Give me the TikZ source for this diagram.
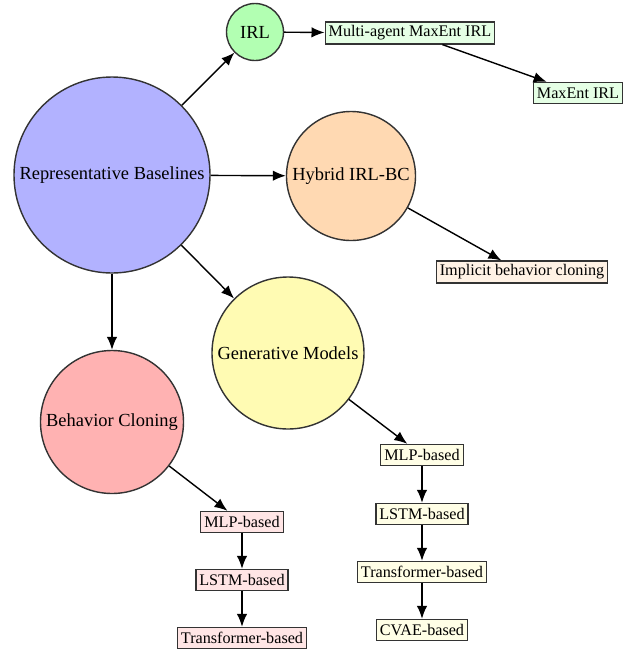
\documentclass[tikz,border=0pt]{standalone}
\usepackage{fontspec}
\setmainfont{Liberation Serif}
\usetikzlibrary{arrows.meta}

\begin{document}
\begin{tikzpicture}[
  bigcirc/.style={circle,draw=black!80,thick,inner sep=0pt,font=\fontsize{10.5}{12}\selectfont},
  leafbox/.style={rectangle,draw=black!80,thick,inner sep=2pt,minimum height=0.42cm,font=\fontsize{9.2}{11}\selectfont},
  link/.style={-{Latex[length=2.6mm,width=2.1mm]},thick}
]

\useasboundingbox (0,0) rectangle (12.72,-13.04);

\node[bigcirc,fill=blue!30,minimum size=3.92cm]
(RB)
at (2.24,-3.5)
{Representative Baselines};

\node[bigcirc,fill=green!30,minimum size=1.14cm]
(IRL)
at (5.1,-0.64)
{IRL};

\node[bigcirc,fill=orange!30,minimum size=2.58cm]
(HY)
at (7.02,-3.52)
{Hybrid IRL-BC};

\node[bigcirc,fill=yellow!30,minimum size=3.04cm]
(GM)
at (5.76,-7.06)
{Generative Models};

\node[bigcirc,fill=red!30,minimum size=2.86cm]
(BC)
at (2.24,-8.44)
{Behavior Cloning};

% IRL branch
\node[leafbox,fill=green!10]
(MA)
at (8.2,-0.66)
{Multi-agent MaxEnt IRL};

\node[leafbox,fill=green!10]
(ME)
at (11.56,-1.86)
{MaxEnt IRL};

% hybrid branch
\node[leafbox,fill=orange!10]
(IB)
at (10.44,-5.44)
{Implicit behavior cloning};

% generative branch
\node[leafbox,fill=yellow!10]
(G1)
at (8.44,-9.1)
{MLP-based};

\node[leafbox,fill=yellow!10]
(G2)
at (8.44,-10.28)
{LSTM-based};

\node[leafbox,fill=yellow!10]
(G3)
at (8.44,-11.44)
{Transformer-based};

\node[leafbox,fill=yellow!10]
(G4)
at (8.44,-12.6)
{CVAE-based};

% behavior cloning branch
\node[leafbox,fill=red!10]
(B1)
at (4.84,-10.44)
{MLP-based};

\node[leafbox,fill=red!10]
(B2)
at (4.84,-11.6)
{LSTM-based};

\node[leafbox,fill=red!10]
(B3)
at (4.84,-12.76)
{Transformer-based};

\draw[link] (RB) -- (IRL);
\draw[link] (RB) -- (HY);
\draw[link] (RB) -- (GM);
\draw[link] (RB) -- (BC);

\draw[link] (IRL) -- (MA);
\draw[link] (MA) -- (ME);

\draw[link] (HY) -- (IB);

\draw[link] (GM) -- (G1);
\draw[link] (G1) -- (G2);
\draw[link] (G2) -- (G3);
\draw[link] (G3) -- (G4);

\draw[link] (BC) -- (B1);
\draw[link] (B1) -- (B2);
\draw[link] (B2) -- (B3);

\end{tikzpicture}
\end{document}
